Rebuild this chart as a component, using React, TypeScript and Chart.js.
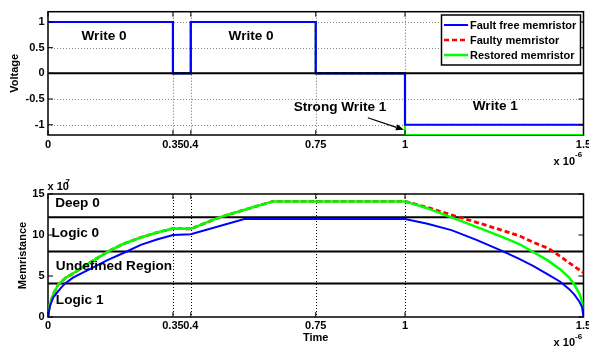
import { useEffect, useRef } from "react";
import { Chart, registerables } from "chart.js";

Chart.register(...registerables);

// ---------- shared axis data ----------
const TIME_MIN = 0;
const TIME_MAX = 1.5;
const X_TICKS = [0, 0.35, 0.4, 0.75, 1, 1.5];
const X_TICK_LABELS = ["0", "0.35", "0.4", "0.75", "1", "1.5"];

const SERIES_NAMES = ["Fault free memristor", "Faulty memristor", "Restored memristor"];
const SERIES_COLORS = ["#0000ff", "#ff0000", "#00ff00"];

// ---------- voltage plot (top) ----------
const VOLT_MIN = -1.2;
const VOLT_MAX = 1.2;
const VOLT_TICKS = [-1, -0.5, 0, 0.5, 1];
const VOLT_TICK_LABELS = ["-1", "-0.5", "0", "0.5", "1"];

const VOLT_TIME = [0, 0.35, 0.35, 0.4, 0.4, 0.75, 0.75, 1, 1, 1.5];
const VOLT_FAULT_FREE = [1, 1, 0, 0, 1, 1, 0, 0, -1, -1];
const VOLT_FAULTY = [1, 1, 0, 0, 1, 1, 0, 0, -1.2, -1.2];
const VOLT_RESTORED = [1, 1, 0, 0, 1, 1, 0, 0, -1.2, -1.2];
const VOLT_ZERO_LEVEL = 0;

const VOLT_NOTE_TEXT = ["Write 0", "Write 0", "Strong Write 1", "Write 1"];
const VOLT_NOTE_T = [0.157, 0.569, 0.818, 1.253];
const VOLT_NOTE_V = [0.72, 0.72, -0.66, -0.645];
const ARROW_FROM = { t: 0.896, v: -0.865 };
const ARROW_TO = { t: 0.997, v: -1.1 };

// ---------- memristance plot (bottom), values x 10^7 ----------
const MEM_MIN = 0;
const MEM_MAX = 15;
const MEM_TICKS = [0, 5, 10, 15];
const MEM_TICK_LABELS = ["0", "5", "10", "15"];

const MEM_FF_TIME = [0, 0.005, 0.015, 0.035, 0.048, 0.07, 0.12, 0.165, 0.216, 0.26, 0.305, 0.35, 0.4, 0.55, 1.0, 1.06, 1.13, 1.2, 1.27, 1.32, 1.36, 1.4, 1.435, 1.46, 1.475, 1.488, 1.496, 1.5];
const MEM_FAULT_FREE = [0, 1.3, 2.4, 3.5, 4.1, 4.8, 5.9, 6.9, 7.9, 8.8, 9.45, 10.0, 10.1, 11.95, 11.95, 11.4, 10.6, 9.4, 8.1, 7.1, 6.2, 5.2, 4.3, 3.4, 2.7, 1.9, 1.2, 0];

const MEM_RES_TIME = [0, 0.005, 0.015, 0.029, 0.05, 0.07, 0.12, 0.169, 0.21, 0.26, 0.305, 0.35, 0.4, 0.48, 0.56, 0.63, 1.0, 1.06, 1.13, 1.2, 1.27, 1.32, 1.36, 1.4, 1.435, 1.46, 1.475, 1.488, 1.496, 1.5];
const MEM_RESTORED = [0, 1.5, 2.8, 4.0, 4.8, 5.3, 6.7, 8.0, 8.9, 9.7, 10.3, 10.8, 10.75, 12.15, 13.2, 14.1, 14.1, 13.3, 12.15, 11.0, 9.8, 8.9, 7.9, 6.9, 5.8, 4.8, 3.9, 2.9, 1.9, 1.0];

const MEM_FAULTY_TIME = [0, 0.005, 0.015, 0.029, 0.05, 0.07, 0.12, 0.169, 0.21, 0.26, 0.305, 0.35, 0.4, 0.48, 0.56, 0.63, 1.0, 1.06, 1.13, 1.2, 1.27, 1.32, 1.36, 1.4, 1.435, 1.46, 1.48, 1.5];
const MEM_FAULTY = [0, 1.5, 2.8, 4.0, 4.8, 5.3, 6.7, 8.0, 8.9, 9.7, 10.3, 10.8, 10.75, 12.15, 13.2, 14.1, 14.1, 13.4, 12.45, 11.55, 10.6, 9.9, 9.1, 8.4, 7.4, 6.6, 6.0, 5.4];

const REGION_LEVELS = [12.15, 8.0, 4.1];
const REGION_LABELS = ["Deep 0", "Logic 0", "Undefined Region", "Logic 1"];
const REGION_LABEL_T = [0.02, 0.01, 0.022, 0.022];
const REGION_LABEL_V = [13.87, 10.2, 6.13, 1.99];

// ---------- styling helpers ----------
const FONT_FAMILY = '"Liberation Sans", Arial, Helvetica, sans-serif';
const bold = (px: number) => `bold ${px}px ${FONT_FAMILY}`;

function toPoints(ts: number[], vs: number[]) {
  return ts.map((t, i) => ({ x: t, y: vs[i] }));
}

type Note = { text: string; t: number; v: number; align: CanvasTextAlign };

type FrameOpts = {
  yTicks: number[];
  vGridColor: string;
  hGrid: boolean;
  notes: Note[];
  arrow?: { from: { t: number; v: number }; to: { t: number; v: number } };
  legend: boolean;
  yTitle: string;
  yTitleX: number;
  xTitle?: string;
  xLabelDy: number;
  xTitleDy: number;
  expDy: number;
  topExp?: string;
};

function framePlugin(o: FrameOpts) {
  return {
    id: "matlabFrame",
    beforeDatasetsDraw(chart: any) {
      const { ctx, chartArea: a, scales } = chart;
      const xs = scales.x;
      const ys = scales.y;
      ctx.save();
      ctx.lineWidth = 1;
      ctx.setLineDash([1, 2]);
      ctx.strokeStyle = o.vGridColor;
      for (const t of X_TICKS) {
        if (t <= xs.min || t >= xs.max) continue;
        const px = Math.round(xs.getPixelForValue(t)) + 0.5;
        ctx.beginPath();
        ctx.moveTo(px, a.top);
        ctx.lineTo(px, a.bottom);
        ctx.stroke();
      }
      if (o.hGrid) {
        ctx.strokeStyle = "#8a8a8a";
        for (const v of o.yTicks) {
          if (v <= ys.min || v >= ys.max) continue;
          const py = Math.round(ys.getPixelForValue(v)) + 0.5;
          ctx.beginPath();
          ctx.moveTo(a.left, py);
          ctx.lineTo(a.right, py);
          ctx.stroke();
        }
      }
      // frame (beneath the data lines)
      ctx.setLineDash([]);
      ctx.strokeStyle = "#000";
      ctx.lineWidth = 1.5;
      ctx.strokeRect(a.left, a.top, a.right - a.left, a.bottom - a.top);
      ctx.restore();
    },
    afterDatasetsDraw(chart: any) {
      const { ctx, chartArea: a, scales } = chart;
      const xs = scales.x;
      const ys = scales.y;
      ctx.save();
      ctx.setLineDash([]);
      ctx.strokeStyle = "#000";
      // inward tick marks
      ctx.lineWidth = 1;
      const TL = 5;
      for (const t of X_TICKS) {
        const px = xs.getPixelForValue(t);
        ctx.beginPath();
        ctx.moveTo(px, a.bottom);
        ctx.lineTo(px, a.bottom - TL);
        ctx.moveTo(px, a.top);
        ctx.lineTo(px, a.top + TL);
        ctx.stroke();
      }
      for (const v of o.yTicks) {
        const py = ys.getPixelForValue(v);
        ctx.beginPath();
        ctx.moveTo(a.left, py);
        ctx.lineTo(a.left + TL, py);
        ctx.moveTo(a.right, py);
        ctx.lineTo(a.right - TL, py);
        ctx.stroke();
      }
      // x tick labels
      ctx.fillStyle = "#000";
      ctx.font = bold(11);
      ctx.textAlign = "center";
      ctx.textBaseline = "middle";
      X_TICKS.forEach((t, i) => {
        ctx.fillText(X_TICK_LABELS[i], xs.getPixelForValue(t), a.bottom + o.xLabelDy);
      });
      // notes
      ctx.font = bold(13.6);
      for (const n of o.notes) {
        ctx.textAlign = n.align;
        ctx.fillText(n.text, xs.getPixelForValue(n.t), ys.getPixelForValue(n.v));
      }
      // arrow
      if (o.arrow) {
        const x1 = xs.getPixelForValue(o.arrow.from.t);
        const y1 = ys.getPixelForValue(o.arrow.from.v);
        const x2 = xs.getPixelForValue(o.arrow.to.t);
        const y2 = ys.getPixelForValue(o.arrow.to.v);
        const ang = Math.atan2(y2 - y1, x2 - x1);
        const hl = 8;
        const hw = 3.2;
        ctx.lineWidth = 1.2;
        ctx.beginPath();
        ctx.moveTo(x1, y1);
        ctx.lineTo(x2 - hl * Math.cos(ang), y2 - hl * Math.sin(ang));
        ctx.stroke();
        ctx.beginPath();
        ctx.moveTo(x2, y2);
        ctx.lineTo(x2 - hl * Math.cos(ang) + hw * Math.sin(ang), y2 - hl * Math.sin(ang) - hw * Math.cos(ang));
        ctx.lineTo(x2 - hl * Math.cos(ang) - hw * Math.sin(ang), y2 - hl * Math.sin(ang) + hw * Math.cos(ang));
        ctx.closePath();
        ctx.fill();
      }
      // legend
      if (o.legend) {
        const bx = a.right - 142;
        const by = a.top + 3.3;
        const bw = 139;
        const bh = 50;
        ctx.fillStyle = "#fff";
        ctx.fillRect(bx, by, bw, bh);
        ctx.lineWidth = 1.5;
        ctx.strokeStyle = "#000";
        ctx.strokeRect(bx, by, bw, bh);
        ctx.font = bold(11);
        ctx.textAlign = "left";
        ctx.textBaseline = "middle";
        SERIES_NAMES.forEach((name, i) => {
          const ds = chart.data.datasets.find((d: any) => d.label === name);
          const ry = by + 10 + i * 15;
          ctx.save();
          ctx.strokeStyle = ds ? ds.borderColor : SERIES_COLORS[i];
          ctx.lineWidth = i === 0 ? 2 : 2.5;
          ctx.setLineDash(ds && ds.borderDash ? ds.borderDash : []);
          ctx.beginPath();
          ctx.moveTo(bx + 2.5, ry);
          ctx.lineTo(bx + 26.5, ry);
          ctx.stroke();
          ctx.restore();
          ctx.fillStyle = "#000";
          ctx.fillText(name, bx + 28.5, ry + 0.5);
        });
      }
      // titles
      ctx.fillStyle = "#000";
      ctx.font = bold(11);
      ctx.textAlign = "center";
      ctx.textBaseline = "middle";
      ctx.save();
      ctx.translate(o.yTitleX, (a.top + a.bottom) / 2);
      ctx.rotate(-Math.PI / 2);
      ctx.fillText(o.yTitle, 0, 0);
      ctx.restore();
      if (o.xTitle) {
        ctx.fillText(o.xTitle, (a.left + a.right) / 2, a.bottom + o.xTitleDy);
      }
      // exponent labels
      ctx.textAlign = "right";
      ctx.font = bold(11);
      const ex = a.right - 8.5;
      ctx.fillText("x 10", ex, a.bottom + o.expDy);
      ctx.textAlign = "left";
      ctx.font = bold(8);
      ctx.fillText("-6", ex, a.bottom + o.expDy - 7);
      if (o.topExp) {
        ctx.font = bold(11);
        ctx.textAlign = "left";
        ctx.fillText("x 10", a.left - 0.5, a.top - 6.7);
        ctx.font = bold(8);
        ctx.fillText(o.topExp, a.left + 17.5, a.top - 12.3);
      }
      ctx.restore();
    },
  };
}

function makeScales(yMin: number, yMax: number, yTicks: number[], yLabels: string[], xHeight: number) {
  return {
    x: {
      type: "linear",
      min: TIME_MIN,
      max: TIME_MAX,
      afterBuildTicks: (s: any) => {
        s.ticks = X_TICKS.map((v) => ({ value: v }));
      },
      afterFit: (s: any) => {
        s.height = xHeight;
        s.paddingLeft = 0;
        s.paddingRight = 0;
      },
      grid: { display: false, drawTicks: false },
      border: { display: false },
      ticks: { display: false },
    },
    y: {
      type: "linear",
      min: yMin,
      max: yMax,
      afterBuildTicks: (s: any) => {
        s.ticks = yTicks.map((v) => ({ value: v }));
      },
      afterFit: (s: any) => {
        s.width = 48;
        s.paddingTop = 0;
        s.paddingBottom = 0;
      },
      grid: { display: false, drawTicks: false },
      border: { display: false },
      ticks: {
        autoSkip: false,
        padding: 3.5,
        color: "#000",
        font: { family: FONT_FAMILY, size: 11, weight: "bold" },
        callback: (_v: any, i: number) => yLabels[i],
      },
    },
  };
}

const baseOptions = {
  animation: false,
  responsive: false,
  maintainAspectRatio: false,
  events: [],
  plugins: { legend: { display: false }, tooltip: { enabled: false } },
  elements: { point: { radius: 0 }, line: { tension: 0, borderCapStyle: "butt", borderJoinStyle: "miter" } },
};

export default function App() {
  const topRef = useRef<HTMLCanvasElement | null>(null);
  const botRef = useRef<HTMLCanvasElement | null>(null);

  useEffect(() => {
    if (!topRef.current || !botRef.current) return;

    const topChart = new Chart(topRef.current, {
      type: "line",
      data: {
        datasets: [
          {
            label: "zero",
            data: toPoints([TIME_MIN, TIME_MAX], [VOLT_ZERO_LEVEL, VOLT_ZERO_LEVEL]),
            borderColor: "#000",
            borderWidth: 2,
          },
          {
            label: SERIES_NAMES[0],
            data: toPoints(VOLT_TIME, VOLT_FAULT_FREE),
            borderColor: SERIES_COLORS[0],
            borderWidth: 2.2,
          },
          {
            label: SERIES_NAMES[2],
            data: toPoints(VOLT_TIME, VOLT_RESTORED),
            borderColor: SERIES_COLORS[2],
            borderWidth: 2,
          },
          {
            label: SERIES_NAMES[1],
            data: toPoints(VOLT_TIME, VOLT_FAULTY),
            borderColor: SERIES_COLORS[1],
            borderWidth: 2,
            borderDash: [5, 3],
          },
        ],
      },
      options: {
        ...baseOptions,
        layout: { padding: { top: 11.7, left: 0, right: 5.5, bottom: 0 } },
        scales: makeScales(VOLT_MIN, VOLT_MAX, VOLT_TICKS, VOLT_TICK_LABELS, 40),
      } as any,
      plugins: [
        framePlugin({
          yTicks: VOLT_TICKS,
          vGridColor: "#666",
          hGrid: true,
          notes: VOLT_NOTE_TEXT.map((text, i) => ({ text, t: VOLT_NOTE_T[i], v: VOLT_NOTE_V[i], align: "center" as CanvasTextAlign })),
          arrow: { from: ARROW_FROM, to: ARROW_TO },
          legend: true,
          yTitle: "Voltage",
          yTitleX: 15,
          xLabelDy: 10,
          xTitleDy: 21,
          expDy: 26.7,
        }),
      ],
    } as any);

    const botChart = new Chart(botRef.current, {
      type: "line",
      data: {
        datasets: [
          {
            label: SERIES_NAMES[0],
            data: toPoints(MEM_FF_TIME, MEM_FAULT_FREE),
            borderColor: SERIES_COLORS[0],
            borderWidth: 2,
          },
          {
            label: SERIES_NAMES[2],
            data: toPoints(MEM_RES_TIME, MEM_RESTORED),
            borderColor: SERIES_COLORS[2],
            borderWidth: 2.5,
          },
          {
            label: SERIES_NAMES[1],
            data: toPoints(MEM_FAULTY_TIME, MEM_FAULTY),
            borderColor: SERIES_COLORS[1],
            borderWidth: 2.8,
            borderDash: [5, 3],
          },
          ...REGION_LEVELS.map((lvl, i) => ({
            label: "region" + i,
            data: toPoints([TIME_MIN, TIME_MAX], [lvl, lvl]),
            borderColor: "#000",
            borderWidth: 2,
          })),
        ],
      },
      options: {
        ...baseOptions,
        layout: { padding: { top: 19, left: 0, right: 5.5, bottom: 0 } },
        scales: makeScales(MEM_MIN, MEM_MAX, MEM_TICKS, MEM_TICK_LABELS, 33),
      } as any,
      plugins: [
        framePlugin({
          yTicks: MEM_TICKS,
          vGridColor: "#000",
          hGrid: false,
          notes: REGION_LABELS.map((text, i) => ({ text, t: REGION_LABEL_T[i], v: REGION_LABEL_V[i], align: "left" as CanvasTextAlign })),
          legend: false,
          yTitle: "Memristance",
          yTitleX: 23,
          xTitle: "Time",
          xLabelDy: 9,
          xTitleDy: 21,
          expDy: 26.3,
          topExp: "7",
        }),
      ],
    } as any);

    return () => {
      topChart.destroy();
      botChart.destroy();
    };
  }, []);

  return (
    <div style={{ position: "absolute", left: 0, top: 0, width: 589, height: 350, background: "#fff", overflow: "hidden" }}>
      <canvas ref={topRef} width={589} height={175} style={{ display: "block", width: 589, height: 175 }} />
      <canvas ref={botRef} width={589} height={175} style={{ display: "block", width: 589, height: 175 }} />
    </div>
  );
}
